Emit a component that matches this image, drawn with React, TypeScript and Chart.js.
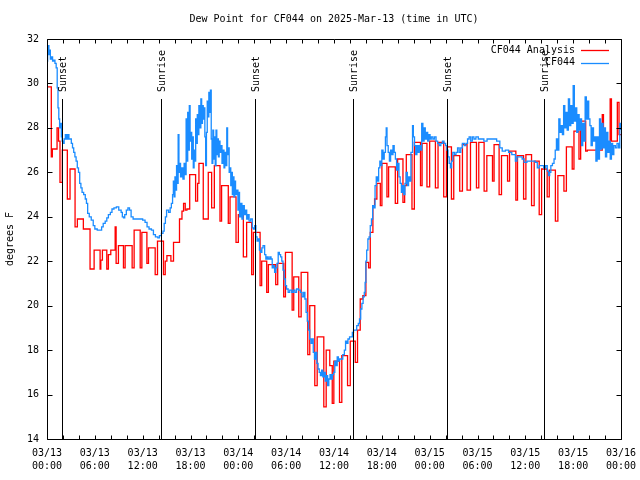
import React, { useEffect, useRef } from "react";
import { Chart, registerables } from "chart.js";

Chart.register(...registerables);

const TITLE = "Dew Point for CF044 on 2025-Mar-13 (time in UTC)";
const Y_TITLE = "degrees F";
const FONT_FAMILY = "'DejaVu Sans Mono', 'Liberation Mono', monospace";

// x tick labels every 6 hours from 03/13 00:00 (hours since start)
const xTickLabels: string[][] = [
  ["03/13", "00:00"], ["03/13", "06:00"], ["03/13", "12:00"], ["03/13", "18:00"],
  ["03/14", "00:00"], ["03/14", "06:00"], ["03/14", "12:00"], ["03/14", "18:00"],
  ["03/15", "00:00"], ["03/15", "06:00"], ["03/15", "12:00"], ["03/15", "18:00"],
  ["03/16", "00:00"],
];

// sunrise / sunset markers (hours since 03/13 00:00 UTC)
const sunEventHours = [1.93, 14.24, 26.05, 38.37, 50.18, 62.37];
const sunEventLabels = ["Sunset", "Sunrise", "Sunset", "Sunrise", "Sunset", "Sunrise"];

// CF044 Analysis: [hour, dew point F] (stepped)
const analysisSeries: [number, number][] = [
  [0.00, 29.85], [0.54, 26.7], [0.67, 27.05], [1.26, 28.0], [1.45, 27.4], [1.63, 25.55],
  [1.92, 27.0], [2.55, 24.8], [2.89, 26.15], [3.52, 23.55], [3.81, 23.9], [4.56, 23.45],
  [5.40, 21.65], [5.91, 22.5], [6.66, 21.65], [6.75, 22.05], [6.95, 22.5], [7.50, 21.65],
  [7.70, 22.3], [8.00, 22.5], [8.55, 23.55], [8.67, 21.9], [8.96, 22.7], [9.59, 21.7],
  [9.80, 22.7], [10.68, 21.7], [10.93, 23.4], [11.69, 21.7], [11.90, 23.3], [12.53, 21.9],
  [12.73, 22.6], [13.57, 21.4], [13.86, 22.9], [14.61, 21.4], [14.83, 22.0], [15.04, 22.25],
  [15.54, 22.0], [15.87, 22.85], [16.62, 23.9], [16.93, 24.25], [17.13, 24.6], [17.34, 24.3],
  [17.55, 24.35], [17.90, 25.9], [18.64, 24.7], [18.89, 25.5], [19.06, 26.4], [19.60, 23.9],
  [20.23, 26.0], [20.65, 24.4], [20.99, 26.3], [21.70, 23.8], [21.90, 25.4], [22.74, 23.7],
  [22.96, 24.9], [23.71, 22.85], [24.00, 24.1], [24.63, 22.2], [25.04, 23.75], [25.67, 21.4],
  [25.89, 23.3], [26.73, 20.9], [26.93, 22.0], [27.56, 20.6], [27.77, 21.85], [28.69, 20.95],
  [28.94, 21.9], [29.69, 20.4], [29.91, 22.4], [30.75, 19.8], [30.95, 21.3], [31.58, 19.5],
  [31.88, 21.5], [32.71, 17.8], [32.96, 20.0], [33.59, 16.4], [33.89, 18.6], [34.72, 15.45],
  [35.02, 18.0], [35.47, 17.3], [35.78, 15.6], [35.98, 17.5], [36.69, 15.65], [36.98, 17.75],
  [37.70, 16.4], [38.04, 18.4], [38.67, 17.45], [38.95, 18.9], [39.29, 20.3], [39.62, 20.45],
  [40.00, 21.95], [40.34, 21.7], [40.55, 23.3], [40.88, 24.5], [41.09, 24.8], [41.38, 25.5],
  [41.81, 24.5], [42.01, 26.4], [42.64, 24.9], [42.85, 26.25], [43.69, 24.6], [43.98, 26.6],
  [44.65, 24.65], [44.86, 25.4], [45.07, 26.8], [45.78, 24.35], [46.08, 27.35], [46.85, 25.4],
  [47.05, 27.3], [47.66, 25.35], [48.00, 27.4], [48.72, 25.3], [49.05, 27.35], [49.76, 24.9],
  [50.10, 27.15], [50.73, 24.8], [51.02, 26.75], [51.77, 25.15], [52.11, 27.25], [52.69, 25.2],
  [53.12, 27.35], [53.87, 25.3], [54.16, 27.35], [54.83, 25.15], [55.17, 26.75], [55.88, 25.6],
  [56.08, 27.25], [56.71, 25.0], [57.01, 26.75], [57.77, 25.6], [58.02, 26.95], [58.81, 24.75],
  [59.02, 26.75], [59.78, 24.8], [60.07, 26.8], [60.78, 24.5], [61.11, 26.5], [61.74, 24.1],
  [62.04, 26.15], [62.74, 24.9], [63.00, 26.1], [63.77, 23.8], [64.08, 25.85], [64.84, 25.15],
  [65.15, 27.15], [65.88, 26.15], [66.10, 27.85], [66.73, 26.6], [66.94, 28.3], [67.57, 26.95],
  [67.77, 27.0], [69.65, 28.6], [69.80, 27.3], [70.64, 29.3], [70.80, 27.4], [71.54, 29.15],
  [71.75, 27.7], [72.00, 27.7],
];

// CF044 observations: [hour, dew point F] (stepped)
const observedSeries: [number, number][] = [
  [0.00, 31.0], [0.08, 31.4], [0.16, 31.7], [0.24, 31.3], [0.32, 31.5], [0.42, 31.1],
  [0.55, 31.2], [0.70, 31.0], [0.85, 31.05], [1.00, 30.9], [1.15, 30.7], [1.28, 29.8],
  [1.38, 28.9], [1.48, 28.4], [1.58, 28.0], [1.70, 28.2], [1.80, 27.6], [1.90, 27.4],
  [2.00, 27.3], [2.15, 27.5], [2.30, 27.7], [2.45, 27.5], [2.60, 27.7], [2.75, 27.5],
  [2.90, 27.5], [3.05, 27.3], [3.20, 27.1], [3.35, 26.9], [3.50, 26.7], [3.65, 26.5],
  [3.80, 26.2], [3.95, 26.0], [4.10, 25.5], [4.25, 25.3], [4.40, 25.1], [4.60, 25.0],
  [4.80, 24.8], [4.95, 24.6], [5.10, 24.15], [5.30, 24.0], [5.55, 23.85], [5.80, 23.6],
  [6.00, 23.45], [6.30, 23.4], [6.60, 23.4], [6.85, 23.55], [7.05, 23.7], [7.30, 23.8],
  [7.50, 23.95], [7.70, 24.1], [7.95, 24.2], [8.15, 24.35], [8.40, 24.4], [8.70, 24.45],
  [9.00, 24.3], [9.30, 24.2], [9.45, 24.0], [9.60, 23.95], [9.75, 24.1], [9.95, 24.3],
  [10.15, 24.4], [10.35, 24.3], [10.55, 24.0], [10.80, 23.9], [11.50, 23.9], [12.00, 23.85],
  [12.30, 23.75], [12.55, 23.55], [12.80, 23.45], [13.10, 23.4], [13.35, 23.2], [13.60, 23.1],
  [13.90, 23.05], [14.10, 23.15], [14.35, 23.25], [14.55, 23.35], [14.70, 23.7], [14.85, 24.0],
  [15.00, 24.3], [15.25, 24.2], [15.45, 24.4], [15.60, 24.6], [15.75, 25.0], [15.85, 25.6],
  [15.95, 24.9], [16.05, 25.8], [16.15, 25.2], [16.25, 26.3], [16.35, 25.5], [16.45, 27.7],
  [16.55, 26.0], [16.65, 26.4], [16.75, 25.8], [16.90, 26.2], [17.05, 25.7], [17.20, 26.4],
  [17.30, 25.9], [17.45, 28.4], [17.55, 26.5], [17.65, 28.7], [17.75, 27.0], [17.85, 29.0],
  [17.95, 27.4], [18.05, 27.8], [18.15, 26.6], [18.25, 27.6], [18.35, 26.2], [18.45, 27.0],
  [18.55, 26.5], [18.65, 28.4], [18.75, 27.3], [18.85, 28.6], [18.95, 27.7], [19.05, 29.0],
  [19.15, 28.0], [19.30, 29.3], [19.40, 28.2], [19.50, 29.0], [19.60, 28.4], [19.70, 28.9],
  [19.80, 27.6], [19.90, 26.3], [20.00, 27.8], [20.10, 29.2], [20.20, 28.5], [20.30, 29.6],
  [20.40, 28.7], [20.50, 29.7], [20.60, 27.5], [20.70, 26.4], [20.80, 27.9], [20.90, 26.6],
  [21.00, 27.6], [21.10, 26.3], [21.20, 27.9], [21.30, 26.8], [21.40, 27.5], [21.50, 26.7],
  [21.60, 27.4], [21.70, 26.9], [21.80, 27.2], [21.95, 26.4], [22.10, 27.0], [22.20, 26.2],
  [22.30, 26.9], [22.45, 26.3], [22.55, 28.0], [22.65, 26.8], [22.75, 27.1], [22.85, 26.0],
  [22.95, 26.2], [23.05, 25.4], [23.15, 26.0], [23.25, 25.0], [23.35, 25.8], [23.45, 24.9],
  [23.55, 25.6], [23.65, 25.0], [23.80, 25.2], [23.95, 24.3], [24.05, 25.1], [24.15, 24.0],
  [24.30, 24.6], [24.45, 23.9], [24.60, 24.5], [24.75, 24.1], [24.90, 24.3], [25.05, 23.9],
  [25.20, 24.1], [25.35, 23.8], [25.55, 23.9], [25.75, 23.5], [25.90, 23.45], [26.05, 23.6],
  [26.20, 23.1], [26.35, 22.9], [26.50, 23.0], [26.65, 22.5], [26.80, 22.4], [26.95, 22.6],
  [27.10, 22.7], [27.30, 22.3], [27.45, 22.1], [27.60, 22.2], [27.75, 22.1], [27.95, 22.2],
  [28.10, 22.1], [28.25, 21.7], [28.40, 21.8], [28.55, 21.5], [28.70, 21.7], [28.85, 21.9],
  [29.00, 22.4], [29.15, 22.3], [29.30, 22.2], [29.45, 22.0], [29.60, 21.6], [29.75, 21.2],
  [29.90, 20.9], [30.05, 20.75], [30.25, 20.6], [30.45, 20.7], [30.70, 20.6], [30.90, 20.7],
  [31.10, 20.6], [31.30, 20.75], [31.55, 20.7], [31.80, 20.6], [32.00, 20.4], [32.20, 20.6],
  [32.35, 20.3], [32.50, 19.7], [32.65, 19.3], [32.80, 18.9], [32.95, 18.5], [33.10, 18.3],
  [33.25, 18.5], [33.40, 17.9], [33.55, 17.6], [33.70, 17.9], [33.85, 17.4], [34.00, 17.15],
  [34.15, 17.0], [34.30, 16.85], [34.45, 17.1], [34.60, 16.8], [34.75, 17.0], [34.90, 16.6],
  [35.05, 16.85], [35.20, 16.4], [35.35, 16.7], [35.50, 16.9], [35.65, 16.7], [35.80, 16.9],
  [35.95, 17.0], [36.10, 17.5], [36.25, 17.3], [36.40, 17.7], [36.55, 17.5], [36.70, 17.6],
  [36.90, 17.6], [37.10, 17.8], [37.30, 18.0], [37.45, 18.4], [37.60, 18.3], [37.75, 18.5],
  [37.95, 18.6], [38.15, 18.6], [38.30, 18.8], [38.45, 18.9], [38.65, 18.9], [38.85, 19.1],
  [39.05, 19.2], [39.20, 19.4], [39.35, 19.85], [39.50, 20.1], [39.65, 20.4], [39.80, 20.6],
  [39.90, 21.05], [40.00, 22.0], [40.10, 22.5], [40.25, 23.0], [40.40, 23.1], [40.55, 23.6],
  [40.70, 23.9], [40.85, 24.5], [41.00, 24.4], [41.15, 25.4], [41.30, 25.8], [41.45, 25.6],
  [41.60, 26.2], [41.75, 26.5], [41.90, 26.3], [42.00, 27.0], [42.15, 26.6], [42.30, 26.9],
  [42.45, 27.6], [42.55, 28.0], [42.65, 27.2], [42.80, 26.9], [42.95, 26.5], [43.10, 27.0],
  [43.25, 26.8], [43.40, 27.2], [43.55, 26.9], [43.70, 26.6], [43.85, 26.1], [44.00, 26.4],
  [44.15, 25.8], [44.30, 25.5], [44.45, 25.1], [44.60, 25.4], [44.75, 25.0], [44.90, 25.5],
  [45.05, 26.0], [45.20, 25.4], [45.35, 25.8], [45.50, 25.6], [45.65, 26.9], [45.85, 28.1],
  [45.95, 27.6], [46.10, 27.2], [46.25, 26.8], [46.40, 27.2], [46.55, 26.9], [46.70, 27.2],
  [46.85, 27.0], [47.00, 28.2], [47.15, 27.4], [47.30, 28.0], [47.45, 27.5], [47.60, 27.8],
  [47.75, 27.4], [47.90, 27.7], [48.05, 27.5], [48.20, 27.6], [48.40, 27.5], [48.60, 27.6],
  [48.80, 27.4], [49.00, 27.3], [49.20, 27.2], [49.40, 27.3], [49.60, 27.4], [49.80, 27.3],
  [50.00, 27.2], [50.15, 27.0], [50.30, 26.7], [50.45, 26.4], [50.60, 26.2], [50.75, 26.5],
  [50.90, 26.9], [51.10, 26.8], [51.30, 26.9], [51.50, 27.1], [51.70, 26.9], [51.90, 27.1],
  [52.10, 27.3], [52.35, 27.2], [52.55, 27.3], [52.75, 27.5], [52.95, 27.6], [53.15, 27.4],
  [53.35, 27.6], [53.55, 27.5], [53.80, 27.6], [54.10, 27.5], [54.40, 27.5], [54.80, 27.4],
  [55.20, 27.5], [55.60, 27.5], [56.00, 27.5], [56.40, 27.4], [56.80, 27.1], [57.10, 26.95],
  [57.50, 27.0], [57.90, 26.9], [58.30, 26.8], [58.60, 26.8], [58.75, 26.5], [58.95, 26.7],
  [59.30, 26.7], [59.60, 26.6], [59.85, 26.45], [60.20, 26.5], [60.60, 26.5], [61.00, 26.5],
  [61.25, 26.45], [61.50, 26.2], [61.75, 26.3], [62.00, 26.3], [62.30, 26.2], [62.55, 26.3],
  [62.75, 26.05], [62.90, 25.85], [63.05, 26.0], [63.20, 26.3], [63.40, 26.4], [63.60, 26.6],
  [63.75, 27.0], [63.90, 27.5], [64.05, 27.0], [64.20, 28.4], [64.35, 27.8], [64.50, 28.1],
  [64.65, 27.7], [64.80, 29.0], [64.95, 28.0], [65.10, 28.7], [65.25, 27.9], [65.40, 29.3],
  [65.55, 28.1], [65.70, 29.0], [65.85, 28.2], [66.00, 29.9], [66.15, 28.3], [66.30, 28.9],
  [66.45, 27.8], [66.60, 28.6], [66.75, 27.9], [66.90, 28.4], [67.05, 27.2], [67.20, 28.2],
  [67.35, 27.4], [67.50, 29.4], [67.65, 28.4], [67.80, 29.2], [67.95, 28.4], [68.10, 28.1],
  [68.25, 27.2], [68.40, 28.0], [68.55, 27.4], [68.70, 27.6], [68.85, 26.5], [69.00, 27.6],
  [69.15, 26.6], [69.30, 28.4], [69.45, 27.05], [69.60, 28.2], [69.75, 27.1], [69.90, 28.0],
  [70.05, 26.7], [70.20, 27.8], [70.35, 26.9], [70.50, 27.4], [70.65, 26.6], [70.80, 27.3],
  [70.95, 26.8], [71.10, 27.2], [71.30, 27.1], [71.50, 27.3], [71.70, 27.1], [71.85, 28.2],
  [72.00, 27.9],
];

const font = (size: number) => `${size}px ${FONT_FAMILY}`;

const gnuplotDecor = {
  id: "gnuplotDecor",
  afterDatasetsDraw(chart: any) {
    const { ctx, chartArea: ca, scales } = chart;
    const xs = scales.x;
    const ys = scales.y;
    ctx.save();
    ctx.strokeStyle = "#000";
    ctx.fillStyle = "#000";
    ctx.lineWidth = 1;
    ctx.font = font(10);

    // sunrise / sunset markers
    sunEventHours.forEach((h, i) => {
      const px = Math.round(xs.getPixelForValue(h)) + 0.5;
      ctx.beginPath();
      ctx.moveTo(px, 99);
      ctx.lineTo(px, ca.bottom);
      ctx.stroke();
      ctx.save();
      ctx.translate(px + 0.5, 92);
      ctx.rotate(-Math.PI / 2);
      ctx.textAlign = "left";
      ctx.textBaseline = "middle";
      ctx.fillText(sunEventLabels[i], 0, 0);
      ctx.restore();
    });

    // frame
    const l = Math.round(ca.left) + 0.5;
    const r = Math.round(ca.right) + 0.5;
    const t = Math.round(ca.top) + 0.5;
    const b = Math.round(ca.bottom) + 0.5;
    ctx.beginPath();
    ctx.rect(l, t, r - l, b - t);
    ctx.stroke();

    // inward ticks
    ctx.beginPath();
    for (let h = 0; h <= 72; h += 2) {
      const px = Math.round(xs.getPixelForValue(h)) + 0.5;
      ctx.moveTo(px, b);
      ctx.lineTo(px, b - 4);
      ctx.moveTo(px, t);
      ctx.lineTo(px, t + 4);
    }
    for (let v = 14; v <= 32; v += 2) {
      const py = Math.round(ys.getPixelForValue(v)) + 0.5;
      ctx.moveTo(l, py);
      ctx.lineTo(l + 5, py);
      ctx.moveTo(r, py);
      ctx.lineTo(r - 5, py);
    }
    ctx.stroke();

    // title
    ctx.textAlign = "center";
    ctx.textBaseline = "middle";
    ctx.fillText(TITLE, (ca.left + ca.right) / 2, 19);

    // legend (top right, inside plot)
    chart.data.datasets.forEach((ds: any, i: number) => {
      const yy = 50 + i * 12.5;
      ctx.textAlign = "right";
      ctx.fillStyle = "#000";
      ctx.fillText(ds.label, 575, yy);
      ctx.strokeStyle = ds.borderColor;
      ctx.lineWidth = 1.3;
      ctx.beginPath();
      ctx.moveTo(581, Math.round(yy) + 0.5);
      ctx.lineTo(609, Math.round(yy) + 0.5);
      ctx.stroke();
    });
    ctx.restore();
  },
};

export default function App() {
  const canvasRef = useRef<HTMLCanvasElement | null>(null);

  useEffect(() => {
    document.body.style.margin = "0";
    const canvas = canvasRef.current;
    if (!canvas) return;
    const chart = new Chart(canvas, {
      type: "line",
      data: {
        datasets: [
          {
            label: "CF044 Analysis",
            data: analysisSeries.map(([x, y]) => ({ x, y })),
            borderColor: "#ff0000",
            borderWidth: 1.3,
            stepped: true,
            pointRadius: 0,
            fill: false,
            order: 1,
          },
          {
            label: "CF044",
            data: observedSeries.map(([x, y]) => ({ x, y })),
            borderColor: "#1a8cff",
            borderWidth: 1.3,
            stepped: true,
            pointRadius: 0,
            fill: false,
            order: 0,
          },
        ],
      },
      options: {
        responsive: false,
        animation: false,
        events: [],
        layout: { padding: { left: 0, right: 19, top: 39, bottom: 0 } },
        plugins: {
          legend: { display: false },
          title: { display: false },
          tooltip: { enabled: false },
        },
        scales: {
          x: {
            type: "linear",
            min: 0,
            max: 72,
            grid: { display: false, drawTicks: false },
            border: { display: false },
            ticks: {
              stepSize: 6,
              autoSkip: false,
              maxRotation: 0,
              padding: 8,
              color: "#000",
              font: { family: FONT_FAMILY, size: 10, lineHeight: 1.3 },
              callback: (v: any) => xTickLabels[Math.round(Number(v) / 6)] ?? "",
            },
            afterFit: (s: any) => {
              s.height = 41;
              s.paddingLeft = 0;
              s.paddingRight = 0;
            },
          },
          y: {
            type: "linear",
            min: 14,
            max: 32,
            grid: { display: false, drawTicks: false },
            border: { display: false },
            ticks: {
              stepSize: 2,
              padding: 8,
              color: "#000",
              font: { family: FONT_FAMILY, size: 10 },
            },
            title: {
              display: true,
              text: Y_TITLE,
              color: "#000",
              font: { family: FONT_FAMILY, size: 10 },
              padding: { top: 4, bottom: 0 },
            },
            afterFit: (s: any) => {
              s.width = 47;
              s.paddingTop = 0;
              s.paddingBottom = 0;
            },
          },
        },
      },
      plugins: [gnuplotDecor],
    });
    return () => chart.destroy();
  }, []);

  return (
    <div style={{ position: "absolute", left: 0, top: 0, width: 640, height: 480, background: "#fff" }}>
      <canvas ref={canvasRef} width={640} height={480} />
    </div>
  );
}
